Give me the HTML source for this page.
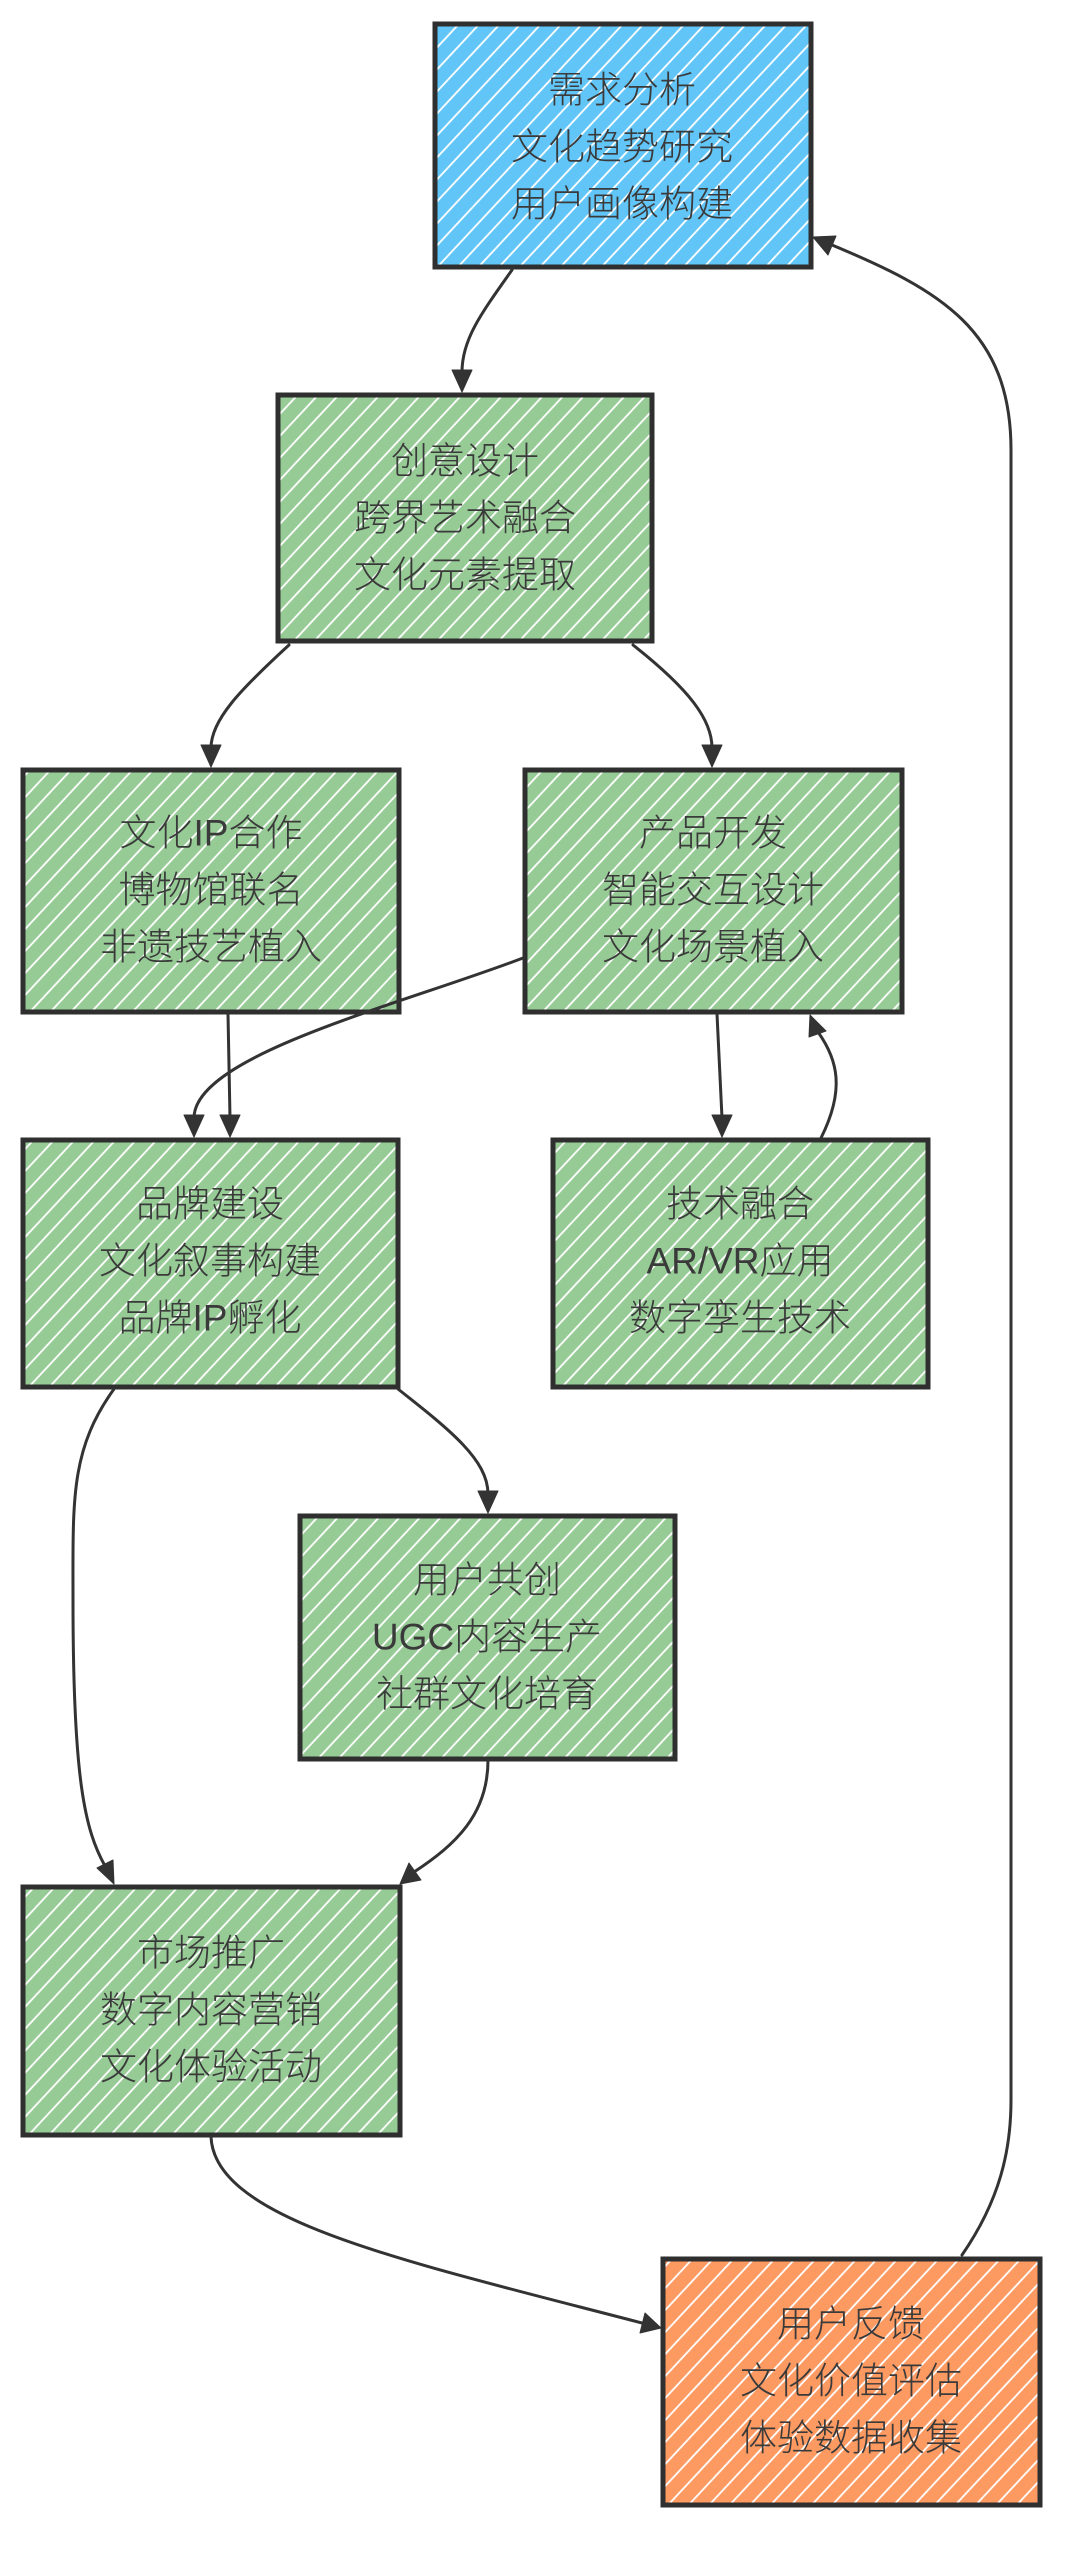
<!DOCTYPE html>
<html>
<head>
<meta charset="utf-8">
<style>
html,body{margin:0;padding:0;background:#fff;}
body{width:1080px;height:2574px;overflow:hidden;}
svg{display:block;}
text{font-family:"Liberation Sans","Noto Sans CJK SC",sans-serif;font-size:37px;font-weight:300;fill:#3a3a3a;}
</style>
</head>
<body>
<svg width="1080" height="2574" viewBox="0 0 1080 2574" xmlns="http://www.w3.org/2000/svg">
<defs>
  <pattern id="hb" width="15" height="15" patternUnits="userSpaceOnUse" patternTransform="rotate(43)">
    <rect width="15" height="15" fill="#62c5f8"/>
    <line x1="7" y1="0" x2="7" y2="15" stroke="#ffffff" stroke-width="1.8"/>
  </pattern>
  <pattern id="hg" width="15" height="15" patternUnits="userSpaceOnUse" patternTransform="rotate(43)">
    <rect width="15" height="15" fill="#97cb96"/>
    <line x1="7" y1="0" x2="7" y2="15" stroke="#ffffff" stroke-width="1.8"/>
  </pattern>
  <pattern id="ho" width="15" height="15" patternUnits="userSpaceOnUse" patternTransform="rotate(43)">
    <rect width="15" height="15" fill="#fd9a62"/>
    <line x1="7" y1="0" x2="7" y2="15" stroke="#ffffff" stroke-width="1.8"/>
  </pattern>
</defs>

<!-- Boxes -->
<g stroke="#2f2f2f" stroke-width="5" stroke-linejoin="miter">
  <rect x="435" y="24" width="376" height="243" fill="url(#hb)"/>
  <rect x="278" y="395" width="374" height="246" fill="url(#hg)"/>
  <rect x="23" y="770" width="376" height="242" fill="url(#hg)"/>
  <rect x="525" y="770" width="377" height="242" fill="url(#hg)"/>
  <rect x="23" y="1140" width="375" height="247" fill="url(#hg)"/>
  <rect x="553" y="1140" width="375" height="247" fill="url(#hg)"/>
  <rect x="300" y="1516" width="375" height="243" fill="url(#hg)"/>
  <rect x="23" y="1887" width="377" height="248" fill="url(#hg)"/>
  <rect x="663" y="2259" width="377" height="246" fill="url(#ho)"/>
</g>

<!-- Texts -->
<g text-anchor="middle" dominant-baseline="central">
  <text x="622" y="90">需求分析</text>
  <text x="622" y="147">文化趋势研究</text>
  <text x="622" y="204">用户画像构建</text>

  <text x="465" y="461">创意设计</text>
  <text x="465" y="518">跨界艺术融合</text>
  <text x="465" y="575">文化元素提取</text>

  <text x="211" y="833">文化IP合作</text>
  <text x="211" y="890">博物馆联名</text>
  <text x="211" y="947">非遗技艺植入</text>

  <text x="713" y="833">产品开发</text>
  <text x="713" y="890">智能交互设计</text>
  <text x="713" y="947">文化场景植入</text>

  <text x="210" y="1204">品牌建设</text>
  <text x="210" y="1261">文化叙事构建</text>
  <text x="210" y="1318">品牌IP孵化</text>

  <text x="740" y="1204">技术融合</text>
  <text x="740" y="1261">AR/VR应用</text>
  <text x="740" y="1318">数字孪生技术</text>

  <text x="487" y="1580">用户共创</text>
  <text x="487" y="1637">UGC内容生产</text>
  <text x="487" y="1694">社群文化培育</text>

  <text x="211" y="1953">市场推广</text>
  <text x="211" y="2010">数字内容营销</text>
  <text x="211" y="2067">文化体验活动</text>

  <text x="851" y="2324">用户反馈</text>
  <text x="851" y="2381">文化价值评估</text>
  <text x="851" y="2438">体验数据收集</text>
</g>

<!-- Connectors -->
<g fill="none" stroke="#333" stroke-width="3" stroke-linecap="round">
  <path d="M512 270 C 480 315 462 340 462 372"/>
  <path d="M289 645 C 240 690 211 720 211 748"/>
  <path d="M633 645 C 690 690 712 720 712 748"/>
  <path d="M228 1014 L 230 1118"/>
  <path d="M523 958 C 400 1005 194 1055 194 1118"/>
  <path d="M717 1014 L 722 1118"/>
  <path d="M821 1138 C 845 1090 838 1060 818 1032"/>
  <path d="M114 1389 C 70 1450 73 1500 73 1600 C 73 1780 85 1830 105 1866"/>
  <path d="M398 1389 C 450 1430 488 1460 488 1494"/>
  <path d="M488 1760 C 488 1815 455 1845 414 1872"/>
  <path d="M211 2137 C 215 2220 400 2260 642 2323"/>
  <path d="M962 2255 C 1000 2200 1011 2150 1011 2100 L 1011 450 C 1011 330 940 290 832 245"/>
</g>

<!-- Arrowheads -->
<g fill="#333" stroke="#333" stroke-width="1" stroke-linejoin="round">
  <polygon points="462,392 452,370 472,370"/>
  <polygon points="211,767 201,745 221,745"/>
  <polygon points="712,767 702,745 722,745"/>
  <polygon points="230,1137 220,1115 240,1115"/>
  <polygon points="194,1137 184,1115 204,1115"/>
  <polygon points="722,1137 712,1115 732,1115"/>
  <polygon points="488,1513 478,1491 498,1491"/>
  <polygon points="810,1015 826,1031 809,1037"/>
  <polygon points="114,1884 97,1868 113,1860"/>
  <polygon points="400,1884 409,1863 421,1880"/>
  <polygon points="661,2328 640,2333 645,2313"/>
  <polygon points="813,237 836,236 828,255"/>
</g>
</svg>
</body>
</html>
